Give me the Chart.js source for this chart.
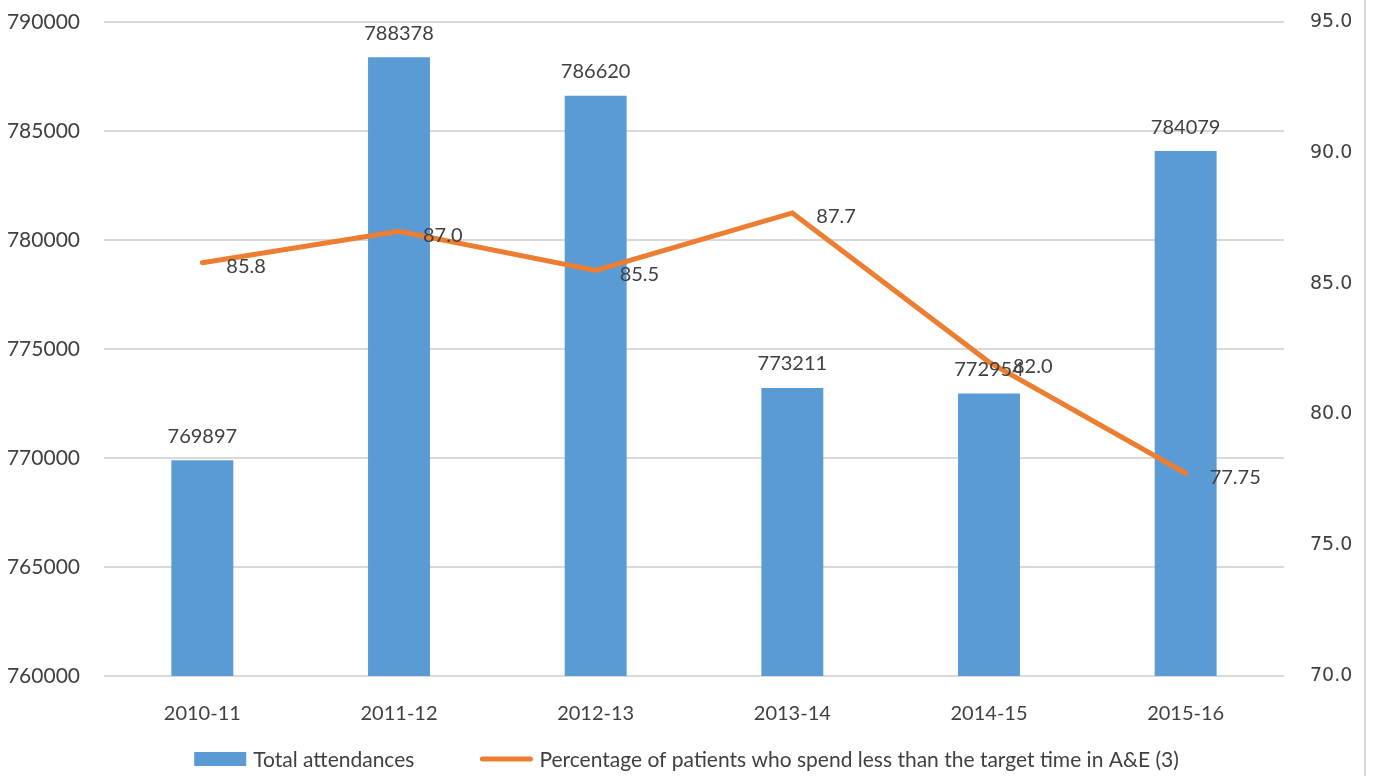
<!DOCTYPE html>
<html>
<head>
<meta charset="utf-8">
<script src="https://cdn.jsdelivr.net/npm/chart.js@4"></script>
<style>
  html, body { margin: 0; padding: 0; background: #fff; }
  #wrap { position: relative; width: 1373px; height: 776px; }
  #edge { position: absolute; left: 1364px; top: 0; width: 2px; height: 776px; background: #d9d9d9; }
</style>
</head>
<body>
<div id="wrap">
  <canvas id="mixChart" width="1373" height="776"></canvas>
  <div id="edge"></div>
</div>
<script>
const years = ['2010-11', '2011-12', '2012-13', '2013-14', '2014-15', '2015-16'];
const attendances = [769897, 788378, 786620, 773211, 772954, 784079];
const pctInTime = [85.8, 87.0, 85.5, 87.7, 82.0, 77.75];
const leftTicks = [760000, 765000, 770000, 775000, 780000, 785000, 790000];
const rightTicks = [70, 75, 80, 85, 90, 95];

const BLUE = '#5b9bd5';
const ORANGE = '#ed7d31';
const TEXT = '#404040';

function fmtPct(v) {
    return Number.isInteger(Math.round(v * 100) / 10) ? v.toFixed(1) : String(v);
}

// value labels for bars + line, and the legend under the axis
const labelPlugin = {
    id: 'labelPlugin',
    afterDatasetsDraw(chart) {
        const c = chart.ctx;
        c.save();
        c.fillStyle = TEXT;
        c.font = '20px Lato';
        c.textBaseline = 'middle';

        const barMeta = chart.getDatasetMeta(1);
        c.textAlign = 'center';
        barMeta.data.forEach((bar, i) => {
            c.fillText(String(attendances[i]), bar.x, bar.y - 24);
        });

        const lineMeta = chart.getDatasetMeta(0);
        c.textAlign = 'left';
        lineMeta.data.forEach((pt, i) => {
            c.fillText(fmtPct(pctInTime[i]), pt.x + 24, pt.y + 4);
        });
        c.restore();
    },
    afterDraw(chart) {
        const c = chart.ctx;
        c.save();
        c.font = '21px Lato';
        c.fillStyle = TEXT;
        c.textBaseline = 'middle';
        const items = [
            { text: chart.data.datasets[1].label, type: 'box', color: BLUE },
            { text: chart.data.datasets[0].label, type: 'line', color: ORANGE }
        ];
        const sw = 52, gap = 7, itemGap = 66;
        let total = 0;
        items.forEach((it, i) => {
            it.w = sw + gap + c.measureText(it.text).width;
            total += it.w + (i ? itemGap : 0);
        });
        let x = (chart.width - total) / 2;
        const y = 759;
        items.forEach(it => {
            if (it.type === 'box') {
                c.fillStyle = it.color;
                c.fillRect(x, y - 7, sw, 14);
            } else {
                c.strokeStyle = it.color;
                c.lineWidth = 5;
                c.lineCap = 'round';
                c.beginPath();
                c.moveTo(x + 2, y);
                c.lineTo(x + sw - 2, y);
                c.stroke();
            }
            c.fillStyle = TEXT;
            c.textAlign = 'left';
            c.fillText(it.text, x + sw + gap, y + 1);
            x += it.w + itemGap;
        });
        c.restore();
    }
};

// keep the vertical axes from asking for extra room above the plot
function fitVertical(width) {
    return s => {
        s.width = width;
        s.paddingTop = 0;
        s.paddingBottom = 0;
    };
}

const ctx = document.getElementById('mixChart').getContext('2d');

let mixChart = new Chart(ctx, {
    data: {
        labels: years,
        datasets: [{
            type: 'line',
            label: 'Percentage of patients who spend less than the target time in A&E (3)',
            data: pctInTime,
            yAxisID: 'y2',
            borderColor: ORANGE,
            borderWidth: 5,
            borderCapStyle: 'round',
            borderJoinStyle: 'miter',
            pointRadius: 0,
            tension: 0,
            order: 0
        }, {
            type: 'bar',
            label: 'Total attendances',
            data: attendances,
            yAxisID: 'y',
            backgroundColor: BLUE,
            categoryPercentage: 1,
            barPercentage: 0.315,
            order: 1
        }]
    },
    options: {
        responsive: false,
        animation: false,
        events: [],
        layout: { autoPadding: false, padding: { top: 22, right: 0, bottom: 0, left: 0 } },
        plugins: {
            legend: { display: false },
            tooltip: { enabled: false }
        },
        scales: {
            x: {
                grid: { display: false },
                border: { display: false },
                ticks: { color: TEXT, font: { family: 'Lato', size: 20 }, padding: 18, maxRotation: 0 },
                afterFit(s) { s.height = 100; }
            },
            y: {
                position: 'left',
                min: 760000,
                max: 790000,
                afterBuildTicks(s) { s.ticks = leftTicks.map(v => ({ value: v })); },
                grid: { color: '#d9d9d9', lineWidth: 2, drawTicks: false },
                border: { display: false },
                ticks: { color: TEXT, font: { family: 'Lato', size: 21 }, padding: 24, callback: v => String(v) },
                afterFit: fitVertical(104)
            },
            y2: {
                position: 'right',
                min: 70,
                max: 95,
                afterBuildTicks(s) { s.ticks = rightTicks.map(v => ({ value: v })); },
                grid: { display: false, drawTicks: false },
                border: { display: false },
                ticks: { color: TEXT, font: { family: 'DejaVu Sans', size: 19 }, padding: 26, callback: v => v.toFixed(1) },
                afterFit: fitVertical(89)
            }
        }
    },
    plugins: [labelPlugin]
});
</script>
</body>
</html>
